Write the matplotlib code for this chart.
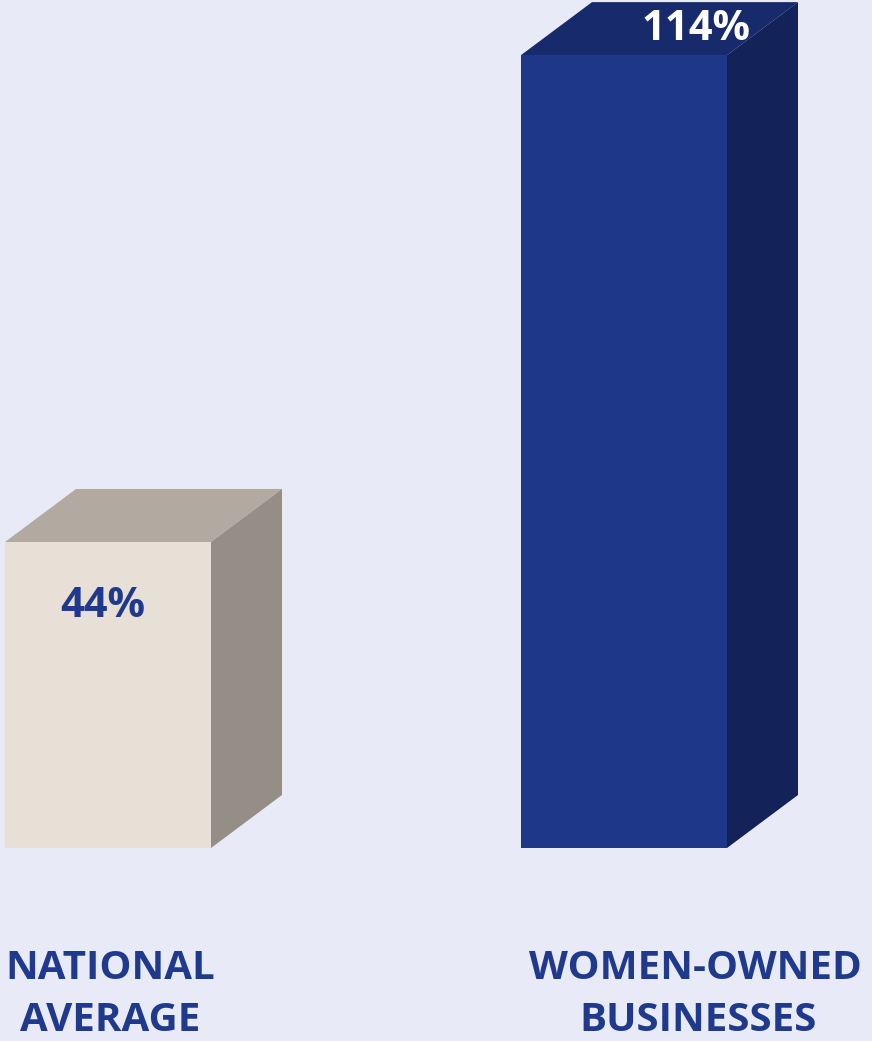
import matplotlib
matplotlib.use("Agg")
import matplotlib.pyplot as plt
from matplotlib.patches import Polygon

# data
categories = [["NATIONAL", "AVERAGE"], ["WOMEN-OWNED", "BUSINESSES"]]
values = [44, 114]
value_labels = ["44%", "114%"]

# colours: front, top, side
front_colors = ["#E8E0D6", "#1E3789"]
top_colors = ["#B2AAA0", "#172B6C"]
side_colors = ["#958E86", "#14225A"]
label_colors = ["#1F3A8C", "white"]
bg = "#E8EBF7"
text_blue = "#1F3A8C"

plt.rcParams["font.family"] = ["Open Sans", "DejaVu Sans"]

fig = plt.figure(figsize=(8.72, 10.41), dpi=100, facecolor=bg)
# axes: bottom of bars at pixel row 848, top of figure at 0
ax = fig.add_axes([0, (1041 - 848) / 1041, 1, 848 / 1041])
ax.set_facecolor(bg)
px_x = 516.0   # pixels per category step
px_y = 6.955   # pixels per percent
ax.set_xlim(-108 / px_x, (872 - 108) / px_x)
ax.set_ylim(0, 848 / px_y)
ax.axis("off")

width = 206 / px_x
dx = 71 / px_x
dy = 53 / px_y
x = list(range(len(values)))

bars = ax.bar(x, values, width=width, color=front_colors, zorder=2)
for i, (b, v) in enumerate(zip(bars, values)):
    x0 = b.get_x()
    x1 = x0 + b.get_width()
    top = Polygon([(x0, v), (x0 + dx, v + dy), (x1 + dx, v + dy), (x1, v)],
                  closed=True, facecolor=top_colors[i], edgecolor="none", zorder=1)
    side = Polygon([(x1, 0), (x1 + dx, dy), (x1 + dx, v + dy), (x1, v)],
                   closed=True, facecolor=side_colors[i], edgecolor="none", zorder=1)
    ax.add_patch(top)
    ax.add_patch(side)

# value labels (baseline placed)
ax.text(x[0] - 5 / px_x, values[0] - 75 / px_y, value_labels[0],
        ha="center", va="baseline", fontsize=30, fontweight="bold", color=label_colors[0])
ax.text(x[1] + 72 / px_x, values[1] + 15 / px_y, value_labels[1],
        ha="center", va="baseline", fontsize=30, fontweight="bold", color=label_colors[1])

# category labels, one line at a time
label_x = [[110, 110], [695, 698]]
baselines = [979, 1031]
for lxs, lines in zip(label_x, categories):
    for lx, base, line in zip(lxs, baselines, lines):
        fig.text(lx / 872, 1 - base / 1041, line, ha="center", va="baseline",
                 fontsize=29, fontweight="bold", color=text_blue)

fig.savefig("out.png", dpi=100, facecolor=bg)
